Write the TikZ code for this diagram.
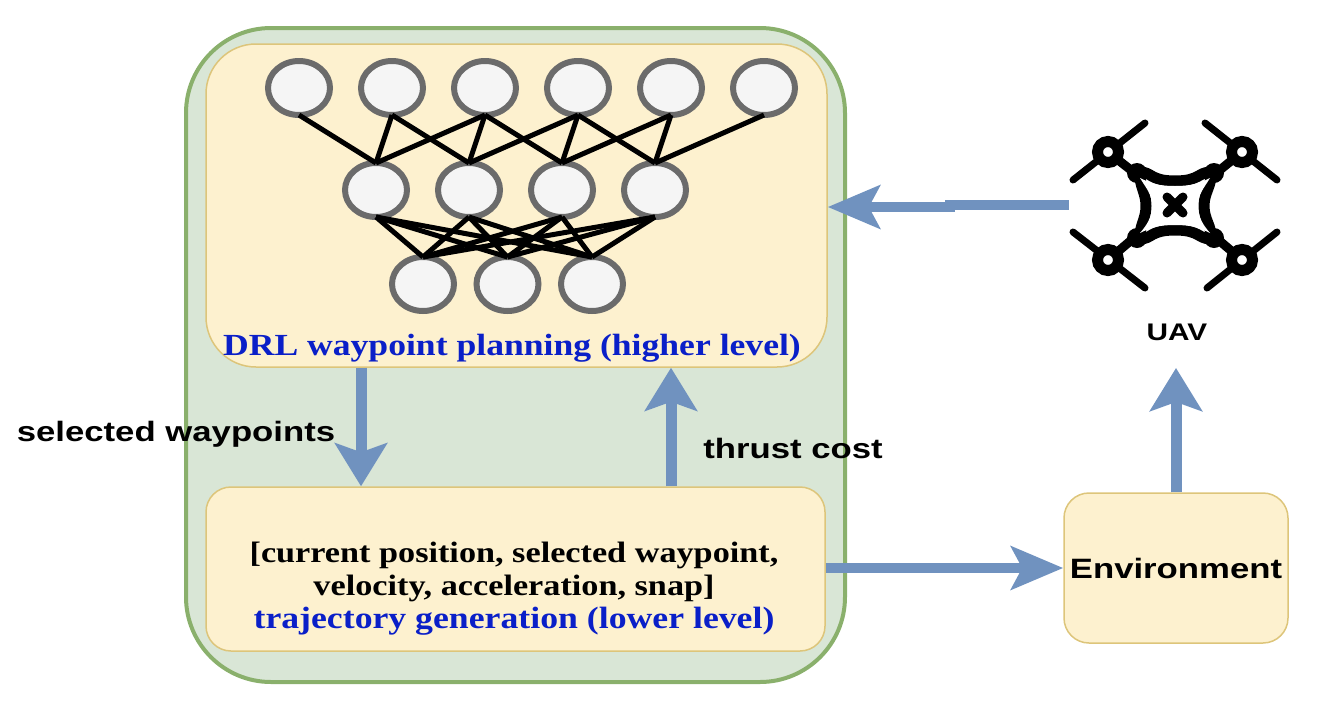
\documentclass[tikz,border=0pt]{standalone}
\usepackage{fontspec}
\setmainfont{Liberation Serif}
\newfontfamily\capfont[FakeStretch=1.16]{Liberation Serif}
\newfontfamily\tagfont[FakeStretch=1.24]{Liberation Sans}
\usetikzlibrary{arrows.meta,positioning,shapes.geometric}
\definecolor{outerfill}{HTML}{D9E6D6}
\definecolor{outerline}{HTML}{8AB06C}
\definecolor{innerfill}{HTML}{FDF1CF}
\definecolor{innerline}{HTML}{DDC57A}
\definecolor{linkblue}{HTML}{7092BF}
\definecolor{capblue}{HTML}{0A1FC8}
\tikzset{main base/.style={rectangle,draw,text centered}, }
\tikzset{outer node/.style={main base,fill=outerfill,draw=outerline,line width=4pt,rounded corners=85pt}, }
\tikzset{main node/.style={main base,fill=innerfill,draw=innerline,line width=1.5pt}, }
\tikzset{neuron/.style={ellipse,draw=black!58,fill=black!4,line width=6pt,minimum width=62pt,minimum height=54pt,inner sep=0pt,outer sep=0pt}, }
\tikzset{linea/.style={-{Stealth[inset=9pt,length=43pt,width=52pt]},line width=11pt,draw=linkblue}}
\tikzset{lineh/.style={-{Stealth[inset=11pt,length=52pt,width=43pt]},line width=10pt,draw=linkblue}}
\tikzset{lineb/.style={line width=5pt,draw=black}}
\tikzset{caption/.style={font=\capfont\fontsize{29.5pt}{33pt}\selectfont\bfseries,align=center,inner sep=0pt}, }
\tikzset{tag/.style={font=\tagfont\fontsize{28pt}{33pt}\selectfont\bfseries,inner sep=0pt}, }
\tikzset{blade/.style={line width=7pt,line cap=round}}
\begin{document}
\begin{tikzpicture}[x=1pt,y=-1pt,node distance=31pt]
  \useasboundingbox (0,0) rectangle (1320,710);
  \node[outer node,minimum width=659pt,minimum height=654pt] (box) at (515.5,355) {};
  \node[main node,rounded corners=50pt,minimum width=621pt,minimum height=323pt] (plan) at (516.5,205.5) {};
  \node[main node,rounded corners=25pt,minimum width=619pt,minimum height=164pt] (traj) at (515.5,569) {};
  \node[main node,rounded corners=25pt,minimum width=224pt,minimum height=150pt,tag] (env) at (1176,568) {Environment};
%
  \node[caption,text=capblue,font=\capfont\fontsize{30.7pt}{33pt}\selectfont\bfseries] (plantext) at (512,348) {DRL waypoint planning (higher level)};
  \node[caption] (trajtext) at (514,589) {[current position, selected waypoint,\\velocity, acceleration, snap]\\\textcolor{capblue}{\fontsize{30.8pt}{33pt}\selectfont trajectory generation (lower level)}};
%
  \node[neuron] (1) at (299,88) {};
  \node[neuron] (2) [right=of 1] {};
  \node[neuron] (3) [right=of 2] {};
  \node[neuron] (4) [right=of 3] {};
  \node[neuron] (5) [right=of 4] {};
  \node[neuron] (6) [right=of 5] {};
%
  \node[neuron] (7) at (376,190) {};
  \node[neuron] (8) [right=of 7] {};
  \node[neuron] (9) [right=of 8] {};
  \node[neuron] (10) [right=of 9] {};
%
  \node[neuron] (11) at (423,284) {};
  \node[neuron] (12) [right=22.5pt of 11] {};
  \node[neuron] (13) [right=22.5pt of 12] {};
%
\foreach \x /\y in{1/7,2/7,2/8,3/7,3/8,3/9,4/8,4/9,4/10,5/9,5/10,6/10,7/11,7/12,7/13,8/11,8/12,8/13,9/11,9/12,9/13,10/11,10/12,10/13}
  \draw[lineb] (\x.south) -- (\y.north);
%
  \node[minimum width=212pt,minimum height=170pt,inner sep=0pt] (uav) at (1175,205) {};
  \node[tag,font=\tagfont\fontsize{24pt}{28pt}\selectfont\bfseries] (uavtext) at (1177,332) {UAV};
  \coordinate (uavin) at (1176,368);
%
  \draw[blade] (1073,180) -- (1145,123);
  \draw[blade] (1205,123) -- (1277,180);
  \draw[blade] (1073,232) -- (1145,288);
  \draw[blade] (1207,288) -- (1277,232);
  \draw[line width=9pt] (1108,152) -- (1136,174) (1242,152) -- (1215,174) (1108,260) -- (1135,237) (1242,260) -- (1215,237);
  \foreach \a/\b in {1108/152,1242/152,1108/260,1242/260}
    \draw[line width=11pt,fill=white] (\a,\b) circle (10.5pt);
  \foreach \a/\b in {1137/173,1214/173,1137/238,1214/238}
    \fill (\a,\b) circle (10pt);
  \draw[line width=11pt,line join=round] (1140,172) .. controls (1152,172) and (1150,181) .. (1175,181)
     .. controls (1200,181) and (1198,172) .. (1211,172)
     .. controls (1212,186) and (1204,192) .. (1204,206)
     .. controls (1204,220) and (1212,226) .. (1211,239)
     .. controls (1198,239) and (1200,230) .. (1175,230)
     .. controls (1150,230) and (1152,239) .. (1140,239)
     .. controls (1139,226) and (1146,220) .. (1146,206)
     .. controls (1146,192) and (1139,186) .. cycle;
  \fill[white] (1140,178) .. controls (1152,184) and (1160,186) .. (1175,186)
     .. controls (1190,186) and (1198,184) .. (1210,178)
     .. controls (1204,188) and (1198,194) .. (1198,206)
     .. controls (1198,218) and (1204,226) .. (1210,233)
     .. controls (1198,227) and (1190,225) .. (1175,225)
     .. controls (1160,225) and (1152,227) .. (1140,233)
     .. controls (1146,226) and (1152,218) .. (1152,206)
     .. controls (1152,194) and (1146,188) .. cycle;
  \draw[line width=9pt,line cap=round] (1167,197) -- (1183,213) (1167,213) -- (1183,197);
%
\draw[linea] (plan.south -| 361,0) -- (traj.north -| 361,0);
\draw[linea] (traj.north -| 671,0) -- (plan.south -| 671,0);
\draw[lineh] (uav.west) -- (950,205) -- (950,207) -- (plan.east |- 950,207);
\draw[lineh] (traj.east |- env.west) -- (env.west);
\draw[linea] (env.north) -- (uavin);
%
  \node[tag] (waytext) at (176,434) {selected waypoints};
  \node[tag] (thrusttext) at (793,448) {thrust cost};
\end{tikzpicture}
\end{document}
